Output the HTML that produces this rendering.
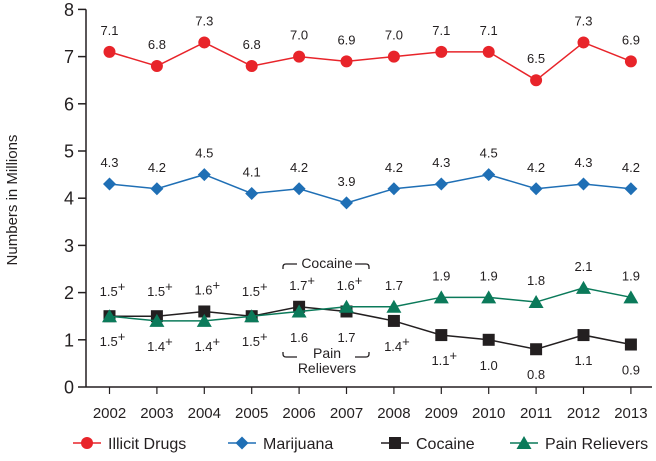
<!DOCTYPE html>
<html><head><meta charset="utf-8"><style>
body{margin:0;background:#fff;}
svg{display:block;font-family:"Liberation Sans",Arial,sans-serif;}
</style></head><body>
<svg id="chart" width="656" height="461"></svg>
<script>
const years=[2002,2003,2004,2005,2006,2007,2008,2009,2010,2011,2012,2013];
const illicit=[7.1,6.8,7.3,6.8,7.0,6.9,7.0,7.1,7.1,6.5,7.3,6.9];
const marijuana=[4.3,4.2,4.5,4.1,4.2,3.9,4.2,4.3,4.5,4.2,4.3,4.2];
const cocaine=[1.5,1.5,1.6,1.5,1.7,1.6,1.4,1.1,1.0,0.8,1.1,0.9];
const pain=[1.5,1.4,1.4,1.5,1.6,1.7,1.7,1.9,1.9,1.8,2.1,1.9];
const cocaineSig=[1,1,1,1,1,1,1,1,0,0,0,0];
const painSig=[1,1,1,1,0,0,0,0,0,0,0,0];
const yTicks=[0,1,2,3,4,5,6,7,8];

const NS="http://www.w3.org/2000/svg";
const svg=document.getElementById('chart');
const X=i=>109.5+i*47.4;
const Y=v=>387-v*47.2;
function el(t,a,p){const e=document.createElementNS(NS,t);for(const k in a)e.setAttribute(k,a[k]);(p||svg).appendChild(e);return e;}

const ax=el('line',{x1:86,y1:Y(8),x2:86,y2:Y(0),stroke:'#231f20','stroke-width':1.5});


const bx=el('line',{x1:86,y1:Y(0),x2:652,y2:Y(0),stroke:'#231f20','stroke-width':1.5});


yTicks.forEach(v=>{
  el('line',{x1:78,y1:Y(v),x2:86,y2:Y(v),stroke:'#231f20','stroke-width':1.5});
  const t=el('text',{x:74,y:Y(v)+6.5,'text-anchor':'end','font-size':18,fill:'#231f20'});
  t.textContent=v;
  
  
});
years.forEach((y,i)=>{
  el('line',{x1:X(i),y1:Y(0),x2:X(i),y2:Y(0)+7,stroke:'#231f20','stroke-width':1.2});
  const t=el('text',{x:X(i),y:418,'text-anchor':'middle','font-size':15,fill:'#231f20'});
  t.textContent=y;
  
  
});
const yt=el('text',{x:0,y:0,transform:'translate(17,200) rotate(-90)','text-anchor':'middle','font-size':15,fill:'#231f20'});
yt.textContent='Numbers in Millions';



function marker(shape,x,y,c,g){
  if(shape==='circle')return el('circle',{cx:x,cy:y,r:6,fill:c},g);
  if(shape==='diamond')return el('polygon',{points:`${x},${y-6.5} ${x+6.5},${y} ${x},${y+6.5} ${x-6.5},${y}`,fill:c},g);
  if(shape==='square')return el('rect',{x:x-6,y:y-6,width:12,height:12,fill:c},g);
  return el('polygon',{points:`${x},${y-7} ${x+7.5},${y+6} ${x-7.5},${y+6}`,fill:c},g);
}
function series(name,data,c,shape){
  const g=el('g',{});
  
  
  el('polyline',{points:data.map((v,i)=>X(i)+','+Y(v)).join(' '),fill:'none',stroke:c,'stroke-width':1.5},g);
  data.forEach((v,i)=>{const m=marker(shape,X(i),Y(v),c,g);
    
    });
}
function label(x,y,txt,sig){
  const t=el('text',{x:x,y:y,'text-anchor':'middle','font-size':13,fill:'#231f20'});
  t.textContent=txt;
  if(sig){const s=el('tspan',{dy:-5,'font-size':13},t);s.textContent='+';}
  
  
}
series('illicit-drugs',illicit,'#e8242a','circle');
series('marijuana',marijuana,'#1f6fb5','diamond');
series('cocaine',cocaine,'#231f20','square');
series('pain-relievers',pain,'#0b7a5a','triangle');

illicit.forEach((v,i)=>label(X(i),Y(v)-17,v.toFixed(1),0));
marijuana.forEach((v,i)=>label(X(i),Y(v)-17,v.toFixed(1),0));
years.forEach((y,i)=>{
  const cu=i<6;
  const up=cu?cocaine[i]:pain[i], upS=cu?cocaineSig[i]:painSig[i];
  const dn=cu?pain[i]:cocaine[i], dnS=cu?painSig[i]:cocaineSig[i];
  const top=Math.min(Y(cocaine[i]),Y(pain[i])), bot=Math.max(Y(cocaine[i]),Y(pain[i]));
  label(X(i)+(upS?3:0),Math.min(top-17,Y(1.5)-20),up.toFixed(1),upS);
  label(X(i)+(dnS?3:0),Math.max(bot+30,Y(1.5)+26),dn.toFixed(1),dnS);
});
const ann=el('g',{});


el('path',{d:'M283,269 v-2 q0,-3 3,-3 h11 M369,269 v-2 q0,-3 -3,-3 h-11 M283,352 v2 q0,3 3,3 h11 M369,352 v2 q0,3 -3,3 h-11',fill:'none',stroke:'#231f20','stroke-width':1.3},ann);
const a1=el('text',{x:327,y:268,'text-anchor':'middle','font-size':14,fill:'#231f20'},ann);a1.textContent='Cocaine';
const a2=el('text',{x:327,y:358,'text-anchor':'middle','font-size':14,fill:'#231f20'},ann);a2.textContent='Pain';
const a3=el('text',{x:327,y:373,'text-anchor':'middle','font-size':14,fill:'#231f20'},ann);a3.textContent='Relievers';

const leg=[['Illicit Drugs','#e8242a','circle',73],['Marijuana','#1f6fb5','diamond',228],['Cocaine','#231f20','square',381],['Pain Relievers','#0b7a5a','triangle',510]];
leg.forEach(([n,c,s,x])=>{
  const g=el('g',{});
  
  
  el('line',{x1:x,y1:443,x2:x+28,y2:443,stroke:c,'stroke-width':1.5},g);
  marker(s,x+14,443,c,g);
  const t=el('text',{x:x+35,y:449,'font-size':16,fill:'#231f20'},g);t.textContent=n;
});
</script>
</body></html>
